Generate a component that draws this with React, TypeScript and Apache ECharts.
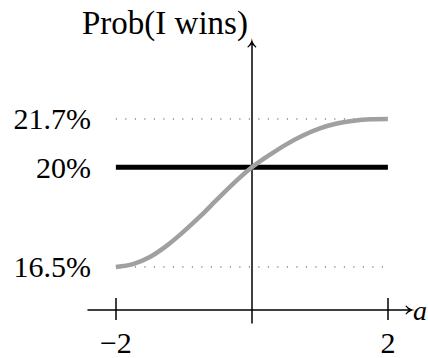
import { useEffect, useRef } from "react";
import * as echarts from "echarts";

// Sampled values of the win probability (in %) against the parameter a
const aValues = [-2, -1.75, -1.5, -1.25, -1, -0.75, -0.5, -0.25, 0, 0.25, 0.5, 0.75, 1, 1.25, 1.5, 1.75, 2];
const winProb = [16.5, 16.6, 16.85, 17.25, 17.75, 18.3, 18.9, 19.48, 20, 20.42, 20.8, 21.12, 21.37, 21.54, 21.64, 21.69, 21.7];

// Reference levels
const baseLevel = 20;
const lowLevel = 16.5;
const highLevel = 21.7;
const aStart = -2;
const aEnd = 2;

// Tick positions / labels
const yTickValues = [16.5, 20, 21.7];
const xTickValues = [-2, 2];

const FONT = "'Liberation Serif', serif";

// LaTeX-like open arrow head, pointing up in its box
const ARROW = "path://M5,0 Q5.6,5 9.6,8.6 L9,9.6 Q6,7 5,6 Q4,7 1,9.6 L0.4,8.6 Q4.4,5 5,0 Z";

export default function App() {
  const ref = useRef<HTMLDivElement>(null);

  useEffect(() => {
    if (!ref.current) return;
    const chart = echarts.init(ref.current, null, { renderer: "svg" });

    const curve = aValues.map((a, i) => [a, winProb[i]]);
    const flat = (v: number) => [
      [aStart, v],
      [aEnd, v],
    ];

    const xMin = -2.41;
    const xMax = 2.325;
    const yMin = 14.53;
    const yMax = 24.37;

    chart.setOption({
      animation: false,
      backgroundColor: "#ffffff",
      textStyle: { fontFamily: FONT, color: "#000" },
      grid: {
        left: 88,
        top: 43,
        width: 322,
        height: 280,
        containLabel: false,
        outerBoundsMode: "none",
      },
      xAxis: [
        {
          type: "value",
          min: xMin,
          max: xMax,
          position: "bottom",
          offset: -13,
          name: "a",
          nameLocation: "end",
          nameGap: 3,
          nameTextStyle: {
            fontFamily: FONT,
            fontStyle: "italic",
            fontSize: 28,
            color: "#000",
            verticalAlign: "middle",
            padding: [8, 0, 0, 0],
          },
          axisLine: {
            onZero: false,
            symbol: ["none", ARROW],
            symbolSize: [9, 10],
            lineStyle: { color: "#000", width: 1.5 },
          },
          axisTick: {
            show: true,
            inside: false,
            length: 10,
            customValues: xTickValues,
            lineStyle: { color: "#000", width: 1.5 },
          },
          axisLabel: {
            show: true,
            customValues: xTickValues,
            margin: 17,
            fontFamily: FONT,
            fontSize: 30,
            color: "#000",
            formatter: (v: number) => (v < 0 ? "\u2212" + Math.abs(v) : String(v)),
          },
          splitLine: { show: false },
        },
        {
          type: "value",
          min: xMin,
          max: xMax,
          position: "bottom",
          offset: -13,
          axisLine: { show: false, onZero: false },
          axisTick: {
            show: true,
            inside: true,
            length: 12,
            customValues: xTickValues,
            lineStyle: { color: "#000", width: 1.5 },
          },
          axisLabel: { show: false },
          splitLine: { show: false },
        },
      ],
      yAxis: [
        {
          type: "value",
          min: yMin,
          max: yMax,
          name: "Prob(I wins)",
          nameLocation: "end",
          nameGap: 4,
          nameTextStyle: {
            fontFamily: FONT,
            fontSize: 33,
            color: "#000",
            align: "right",
            verticalAlign: "bottom",
            padding: [0, 4, 0, 0],
          },
          axisLine: {
            onZero: true,
            symbol: ["none", ARROW],
            symbolSize: [9, 10],
            lineStyle: { color: "#000", width: 1.5 },
          },
          axisTick: { show: false },
          axisLabel: { show: false },
          splitLine: { show: false },
        },
        {
          type: "value",
          min: yMin,
          max: yMax,
          position: "left",
          axisLine: { show: false, onZero: false },
          axisTick: { show: false },
          axisLabel: {
            show: true,
            customValues: yTickValues,
            margin: -3,
            fontFamily: FONT,
            fontSize: 30,
            color: "#000",
            formatter: (v: number) => `${v}%`,
          },
          splitLine: { show: false },
        },
      ],
      series: [
        {
          type: "line",
          data: flat(highLevel),
          showSymbol: false,
          silent: true,
          lineStyle: { color: "#333", width: 1, type: [1, 8.5] },
          z: 1,
        },
        {
          type: "line",
          data: flat(lowLevel),
          showSymbol: false,
          silent: true,
          lineStyle: { color: "#333", width: 1, type: [1, 8.5] },
          z: 1,
        },
        {
          type: "line",
          data: flat(baseLevel),
          showSymbol: false,
          silent: true,
          lineStyle: { color: "#000", width: 5 },
          z: 2,
        },
        {
          type: "line",
          data: curve,
          smooth: 0.3,
          showSymbol: false,
          silent: true,
          lineStyle: { color: "#a0a0a0", width: 4.5 },
          z: 3,
        },
      ],
    });

    return () => chart.dispose();
  }, []);

  return (
    <div
      ref={ref}
      style={{ position: "fixed", left: 0, top: 0, width: 428, height: 358 }}
    />
  );
}
